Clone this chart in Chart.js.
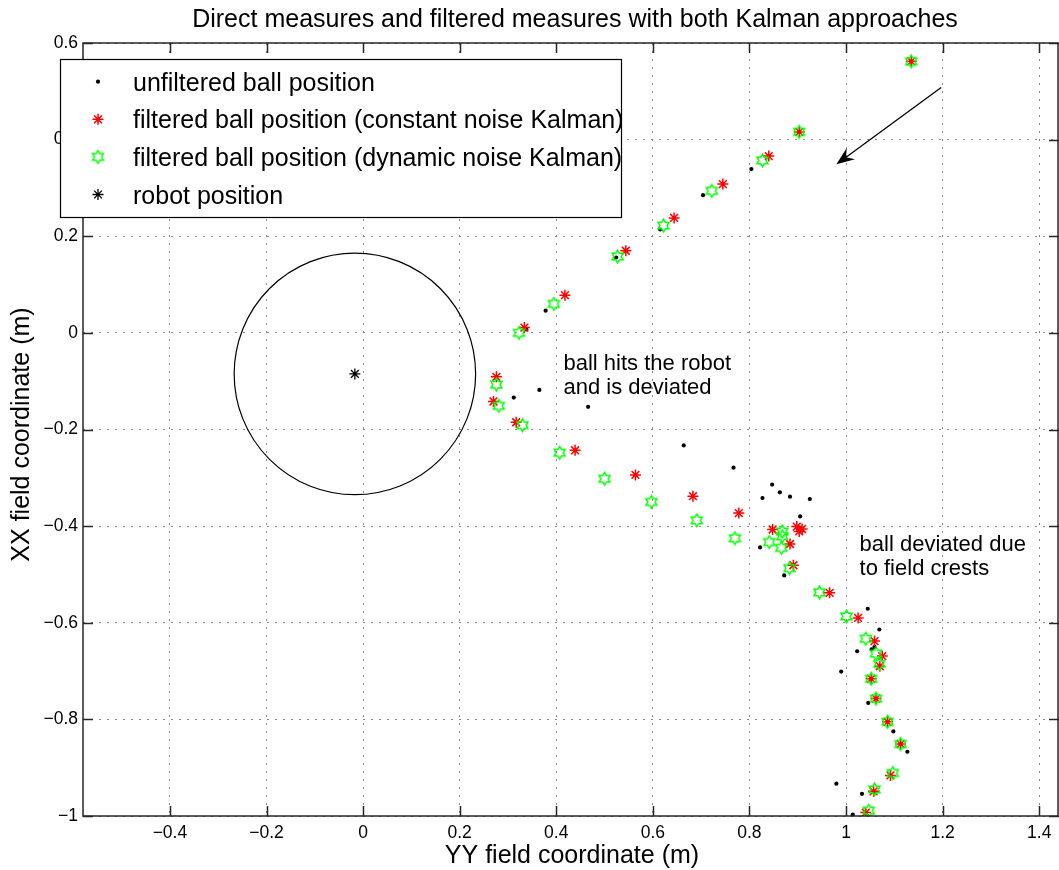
<!DOCTYPE html>
<html>
<head>
<meta charset="utf-8">
<title>Kalman filtered ball positions</title>
<script src="https://cdn.jsdelivr.net/npm/chart.js@4.4.1/dist/chart.umd.min.js"></script>
<style>
  html, body { margin: 0; padding: 0; background: #fff; overflow: hidden; }
  #wrap { width: 1059px; height: 870px; position: relative; }
</style>
</head>
<body>
<div id="wrap"><canvas id="kalmanChart"></canvas></div>
<script>
// Ball positions on the field: YY coordinate (horizontal) against XX coordinate (vertical), metres

// raw camera measures
const rawYY = [0.804, 0.704, 0.615, 0.524, 0.378, 0.338, 0.312, 0.365, 0.466, 0.664, 0.767, 0.847, 0.827, 0.863, 0.884, 0.925,
  0.905, 0.822, 0.872, 1.045, 1.069, 1.059, 1.053, 1.023, 0.990, 1.046, 1.098, 1.127, 0.980, 1.033, 1.014];
const rawXX = [0.339, 0.285, 0.214, 0.156, 0.046, 0.007, -0.134, -0.118, -0.153, -0.233, -0.279, -0.314, -0.342, -0.330, -0.339, -0.344,
  -0.380, -0.444, -0.502, -0.571, -0.614, -0.650, -0.655, -0.659, -0.701, -0.766, -0.825, -0.867, -0.933, -0.954, -0.997];

// Kalman output, constant measurement noise
const constYY = [1.135, 0.903, 0.840, 0.745, 0.644, 0.544, 0.418, 0.334, 0.276, 0.270, 0.317, 0.439, 0.564, 0.683, 0.778, 0.848,
  0.898, 0.903, 0.909, 0.884, 0.891, 0.966, 1.025, 1.059, 1.075, 1.070, 1.052, 1.062, 1.086, 1.113, 1.092, 1.057, 1.041];
const constXX = [0.562, 0.416, 0.366, 0.308, 0.238, 0.170, 0.078, 0.011, -0.091, -0.142, -0.185, -0.243, -0.294, -0.338, -0.373, -0.407,
  -0.401, -0.411, -0.406, -0.437, -0.481, -0.538, -0.590, -0.638, -0.669, -0.690, -0.716, -0.757, -0.805, -0.851, -0.916, -0.949, -0.993];

// Kalman output, dynamic measurement noise
const dynYY = [1.135, 0.903, 0.827, 0.722, 0.622, 0.527, 0.395, 0.323, 0.276, 0.281, 0.330, 0.407, 0.500, 0.597, 0.691, 0.770,
  0.841, 0.868, 0.868, 0.866, 0.883, 0.945, 1.001, 1.041, 1.062, 1.069, 1.052, 1.062, 1.086, 1.113, 1.097, 1.059, 1.047];
const dynXX = [0.562, 0.416, 0.357, 0.294, 0.222, 0.158, 0.060, 0.000, -0.107, -0.151, -0.191, -0.248, -0.302, -0.350, -0.388, -0.425,
  -0.433, -0.411, -0.421, -0.445, -0.487, -0.537, -0.587, -0.633, -0.664, -0.685, -0.716, -0.757, -0.805, -0.851, -0.911, -0.945, -0.989];

// robot centre and footprint radius
const robotYY = [-0.017];
const robotXX = [-0.085];
const robotRadius = 0.25;

const xTicks = [-0.4, -0.2, 0, 0.2, 0.4, 0.6, 0.8, 1, 1.2, 1.4];
const xTickLabels = ['\u22120.4', '\u22120.2', '0', '0.2', '0.4', '0.6', '0.8', '1', '1.2', '1.4'];
const yTicks = [-1, -0.8, -0.6, -0.4, -0.2, 0, 0.2, 0.4, 0.6];
const yTickLabels = ['\u22121', '\u22120.8', '\u22120.6', '\u22120.4', '\u22120.2', '0', '0.2', '0.4', '0.6'];

const seriesLabels = [
  'unfiltered ball position',
  'filtered ball position (constant noise Kalman)',
  'filtered ball position (dynamic noise Kalman)',
  'robot position'
];

// text notes on the field (left edge, first baseline) and the incoming-ball arrow
const notes = [
  { yy: 0.415, xx: -0.077, lines: ['ball hits the robot', 'and is deviated'] },
  { yy: 1.028, xx: -0.452, lines: ['ball deviated due', 'to field crests'] }
];
const arrowFrom = { yy: 1.197, xx: 0.508 };
const arrowTo = { yy: 0.980, xx: 0.349 };

const FONT = '"Liberation Sans", Arial, Helvetica, sans-serif';
Chart.defaults.font.family = FONT;
Chart.defaults.color = '#000';

function toPoints(xs, ys) {
    return xs.map(function(v, i) { return { x: v, y: ys[i] }; });
}

// six-pointed outline marker
function makeHexagram(r, color) {
    const size = Math.ceil(r * 2 + 4);
    const c = document.createElement('canvas');
    c.width = size;
    c.height = size;
    const g = c.getContext('2d');
    const cx = size / 2, cy = size / 2, inner = r / Math.sqrt(3);
    g.beginPath();
    for (let k = 0; k < 12; k++) {
        const a = -Math.PI / 2 + k * Math.PI / 6;
        const rr = k % 2 === 0 ? r : inner;
        const px = cx + rr * Math.cos(a), py = cy + rr * Math.sin(a);
        if (k === 0) g.moveTo(px, py); else g.lineTo(px, py);
    }
    g.closePath();
    g.strokeStyle = color;
    g.lineWidth = 1.5;
    g.stroke();
    return c;
}
const hexagram = makeHexagram(6.3, '#00ff00');

// keep the plot area edge to edge: no extra room for end labels
function noScalePadding(scale) {
    scale.paddingLeft = 0;
    scale.paddingRight = 0;
    scale.paddingTop = 0;
    scale.paddingBottom = 0;
}

const fieldDecor = {
    id: 'fieldDecor',
    beforeDatasetsDraw(chart) {
        const { ctx, scales: { x, y } } = chart;
        // robot footprint circle
        const cx = x.getPixelForValue(robotYY[0]);
        const cy = y.getPixelForValue(robotXX[0]);
        const rx = Math.abs(x.getPixelForValue(robotYY[0] + robotRadius) - cx);
        const ry = Math.abs(y.getPixelForValue(robotXX[0] + robotRadius) - cy);
        ctx.save();
        ctx.beginPath();
        ctx.ellipse(cx, cy, rx, ry, 0, 0, Math.PI * 2);
        ctx.strokeStyle = '#000';
        ctx.lineWidth = 1.2;
        ctx.stroke();
        ctx.restore();
    },
    afterDatasetsDraw(chart) {
        const { ctx, chartArea: a, scales: { x, y } } = chart;
        ctx.save();

        // box around the axes with inward ticks on all sides
        ctx.strokeStyle = '#262626';
        ctx.lineWidth = 1.5;
        ctx.strokeRect(a.left, a.top, a.right - a.left - 1, a.bottom - a.top);
        ctx.beginPath();
        xTicks.forEach(function(v) {
            const px = Math.round(x.getPixelForValue(v)) + 0.5;
            ctx.moveTo(px, a.bottom); ctx.lineTo(px, a.bottom - 10);
            ctx.moveTo(px, a.top); ctx.lineTo(px, a.top + 10);
        });
        yTicks.forEach(function(v) {
            const py = Math.round(y.getPixelForValue(v)) + 0.5;
            ctx.moveTo(a.left, py); ctx.lineTo(a.left + 10, py);
            ctx.moveTo(a.right, py); ctx.lineTo(a.right - 10, py);
        });
        ctx.stroke();

        // arrow showing where the ball comes from
        const x0 = x.getPixelForValue(arrowFrom.yy), y0 = y.getPixelForValue(arrowFrom.xx);
        const x1 = x.getPixelForValue(arrowTo.yy), y1 = y.getPixelForValue(arrowTo.xx);
        const ang = Math.atan2(y1 - y0, x1 - x0);
        const cs = Math.cos(ang), sn = Math.sin(ang);
        const headLen = 18, headHalf = 7, notch = 12;
        ctx.strokeStyle = '#000';
        ctx.fillStyle = '#000';
        ctx.lineWidth = 1.3;
        ctx.beginPath();
        ctx.moveTo(x0, y0);
        ctx.lineTo(x1 - notch * cs, y1 - notch * sn);
        ctx.stroke();
        ctx.beginPath();
        ctx.moveTo(x1, y1);
        ctx.lineTo(x1 - headLen * cs - headHalf * sn, y1 - headLen * sn + headHalf * cs);
        ctx.lineTo(x1 - notch * cs, y1 - notch * sn);
        ctx.lineTo(x1 - headLen * cs + headHalf * sn, y1 - headLen * sn - headHalf * cs);
        ctx.closePath();
        ctx.fill();

        // notes
        ctx.font = '22px ' + FONT;
        ctx.textAlign = 'left';
        ctx.textBaseline = 'alphabetic';
        notes.forEach(function(n) {
            const nx = x.getPixelForValue(n.yy), ny = y.getPixelForValue(n.xx);
            n.lines.forEach(function(line, i) {
                ctx.fillText(line, nx, ny + i * 24);
            });
        });
        ctx.restore();
    },
    afterDraw(chart) {
        const { ctx, chartArea: a } = chart;
        ctx.save();
        ctx.fillStyle = '#000';

        // title and axis titles
        ctx.font = '25px ' + FONT;
        ctx.textAlign = 'center';
        ctx.textBaseline = 'alphabetic';
        ctx.fillText('Direct measures and filtered measures with both Kalman approaches', 575, 27);
        ctx.fillText('YY field coordinate (m)', 572, 863);
        ctx.save();
        ctx.translate(29, (a.top + a.bottom) / 2 + 5);
        ctx.rotate(-Math.PI / 2);
        ctx.fillText('XX field coordinate (m)', 0, 0);
        ctx.restore();

        // legend box
        const box = { left: 60, top: 59, width: 561, height: 158 };
        ctx.fillStyle = '#fff';
        ctx.fillRect(box.left, box.top, box.width, box.height);
        ctx.strokeStyle = '#000';
        ctx.lineWidth = 1.2;
        ctx.strokeRect(box.left + 0.5, box.top + 0.5, box.width, box.height);
        ctx.textAlign = 'left';
        chart.data.datasets.forEach(function(ds, i) {
            const base = 90.7 + i * 37.6;
            ctx.fillStyle = ds.pointBackgroundColor || '#000';
            ctx.strokeStyle = ds.pointBorderColor || '#000';
            ctx.lineWidth = ds.pointBorderWidth || 0;
            Chart.helpers.drawPoint(ctx, {
                pointStyle: ds.pointStyle,
                radius: ds.pointRadius,
                borderWidth: ds.pointBorderWidth || 0,
                rotation: 0
            }, 98, base - 9);
            ctx.fillStyle = '#000';
            ctx.fillText(ds.label, 133, base);
        });
        ctx.restore();
    }
};

new Chart(document.getElementById('kalmanChart'), {
    type: 'scatter',
    data: {
        datasets: [{
            label: seriesLabels[0],
            data: toPoints(rawYY, rawXX),
            pointStyle: 'circle',
            pointRadius: 2.1,
            pointBackgroundColor: '#000',
            pointBorderWidth: 0,
            order: 4
        }, {
            label: seriesLabels[1],
            data: toPoints(constYY, constXX),
            pointStyle: 'star',
            pointRadius: 5.5,
            pointBorderColor: '#ff0000',
            pointBackgroundColor: '#ff0000',
            pointBorderWidth: 1.5,
            order: 3
        }, {
            label: seriesLabels[2],
            data: toPoints(dynYY, dynXX),
            pointStyle: hexagram,
            pointRadius: 6.3,
            order: 2
        }, {
            label: seriesLabels[3],
            data: toPoints(robotYY, robotXX),
            pointStyle: 'star',
            pointRadius: 5.5,
            pointBorderColor: '#000',
            pointBackgroundColor: '#000',
            pointBorderWidth: 1.3,
            order: 1
        }]
    },
    options: {
        responsive: true,
        maintainAspectRatio: false,
        devicePixelRatio: 1,
        animation: false,
        events: [],
        layout: {
            autoPadding: false,
            padding: { top: 43, left: 0, right: 0, bottom: 0 }
        },
        plugins: {
            legend: { display: false },
            tooltip: { enabled: false }
        },
        scales: {
            x: {
                type: 'linear',
                min: -0.58,
                max: 1.441,
                afterBuildTicks: function(scale) {
                    scale.ticks = xTicks.map(function(v) { return { value: v }; });
                },
                afterFit: function(scale) {
                    scale.height = 54;
                    noScalePadding(scale);
                },
                ticks: {
                    callback: function(v, i) { return xTickLabels[i]; },
                    font: { size: 17.5 },
                    color: '#000',
                    padding: 7,
                    maxRotation: 0,
                    autoSkip: false
                },
                grid: { color: '#8a8a8a', lineWidth: 1, drawTicks: false },
                border: { display: false, dash: [2, 6] }
            },
            y: {
                type: 'linear',
                min: -1,
                max: 0.6,
                afterBuildTicks: function(scale) {
                    scale.ticks = yTicks.map(function(v) { return { value: v }; });
                },
                afterFit: function(scale) {
                    scale.width = 83;
                    noScalePadding(scale);
                },
                ticks: {
                    callback: function(v, i) { return yTickLabels[i]; },
                    font: { size: 17.5 },
                    color: '#000',
                    padding: 5,
                    autoSkip: false
                },
                grid: { color: '#8a8a8a', lineWidth: 1, drawTicks: false },
                border: { display: false, dash: [2, 6] }
            }
        }
    },
    plugins: [fieldDecor]
});
</script>
</body>
</html>
